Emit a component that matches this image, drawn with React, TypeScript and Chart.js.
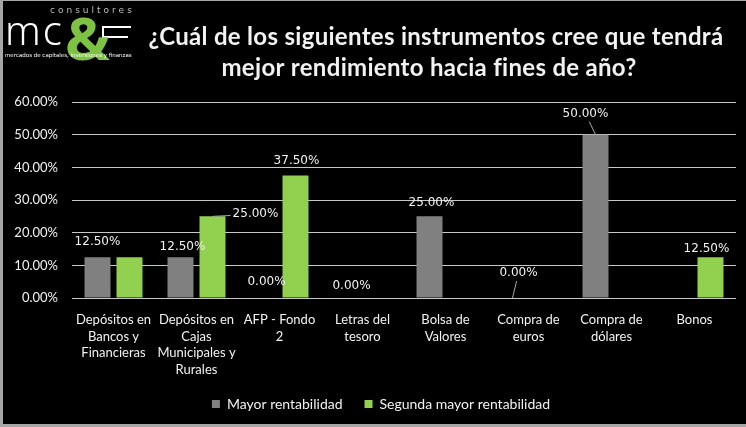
import { useEffect, useRef } from 'react';
import { Chart, registerables } from 'chart.js';
Chart.register(...registerables);

const categories: string[][] = [
  ['Depósitos en', 'Bancos y', 'Financieras'],
  ['Depósitos en', 'Cajas', 'Municipales y', 'Rurales'],
  ['AFP - Fondo', '2'],
  ['Letras del', 'tesoro'],
  ['Bolsa de', 'Valores'],
  ['Compra de', 'euros'],
  ['Compra de', 'dólares'],
  ['Bonos'],
];
const mayorRentabilidad: (number | null)[] = [12.5, 12.5, 0, 0, 25, 0, 50, null];
const segundaMayorRentabilidad: (number | null)[] = [12.5, 25, 37.5, null, null, null, null, 12.5];
const seriesNames = ['Mayor rentabilidad', 'Segunda mayor rentabilidad'];
const titleLines = ['¿Cuál de los siguientes instrumentos cree que tendrá', 'mejor rendimiento hacia fines de año?'];
const yMin = 0;
const yMax = 60;
const yStep = 10;

type LabelCfg = { dx: number; dy: number; leader?: boolean } | null;
const grayLabelCfg: LabelCfg[] = [
  { dx: 0, dy: -15 }, { dx: 2, dy: -10 }, { dx: 3, dy: -16 }, { dx: 5, dy: -12 },
  { dx: 2, dy: -13 }, { dx: 6, dy: -25, leader: true }, { dx: -10, dy: -21, leader: true }, null,
];
const greenLabelCfg: LabelCfg[] = [
  null, { dx: 43, dy: -2, leader: true }, { dx: 1, dy: -15 }, null, null, null, null, { dx: -4, dy: -8 },
];

const TEXT = '#f2f2f2';
const FONT = 'Lato';

const bgPlugin = {
  id: 'bgFrame',
  beforeDraw(chart: any) {
    const { ctx, width, height } = chart;
    ctx.save();
    ctx.fillStyle = '#000';
    ctx.fillRect(0, 0, width, height);
    ctx.fillStyle = '#a6a6a6';
    ctx.fillRect(0, 0, 3, height);
    ctx.fillRect(0, height - 3, width, 3);
    ctx.fillRect(0, 0, width, 1);
    ctx.restore();
  },
  afterLayout(chart: any) {
    if (chart.legend) {
      chart.legend.left += 8;
      chart.legend.right += 8;
      chart.legend.top -= 6;
      chart.legend.bottom -= 6;
    }
  },
};

const titlePlugin = {
  id: 'customTitle',
  afterDraw(chart: any) {
    const { ctx } = chart;
    ctx.save();
    ctx.fillStyle = TEXT;
    ctx.font = `bold 24px ${FONT}`;
    (ctx as any).letterSpacing = '0.3px';
    ctx.textAlign = 'center';
    ctx.textBaseline = 'middle';
    ctx.fillText(titleLines[0], 436, 37);
    ctx.fillText(titleLines[1], 429, 68);
    // logo
    ctx.textAlign = 'left';
    ctx.textBaseline = 'alphabetic';
    ctx.fillStyle = '#bfbfbf';
    ctx.font = `9px "DejaVu Sans"`;
    (ctx as any).letterSpacing = '3px';
    ctx.fillText('consultores', 50, 13);
    ctx.fillStyle = '#ffffff';
    ctx.font = `300 40px "Noto Sans"`;
    (ctx as any).letterSpacing = '2px';
    ctx.fillText('mc', 5, 45);
    (ctx as any).letterSpacing = '0px';
    ctx.fillRect(102, 26, 29, 2);
    ctx.fillRect(102, 36, 26, 2);
    ctx.fillRect(102, 26, 2, 19);
    ctx.fillStyle = '#7dc242';
    ctx.font = `bold 60px "Noto Sans"`;
    ctx.fillText('&', 65, 60);
    ctx.fillStyle = '#ffffff';
    ctx.font = `5.5px "DejaVu Sans"`;
    ctx.fillText('mercados de capitales, inversiones y finanzas', 5, 57);
    ctx.restore();
  },
};

const labelPlugin = {
  id: 'valueLabels',
  afterDatasetsDraw(chart: any) {
    const { ctx } = chart;
    const cfgs = [grayLabelCfg, greenLabelCfg];
    ctx.save();
    ctx.font = '12px "DejaVu Sans"';
    ctx.textAlign = 'center';
    ctx.textBaseline = 'middle';
    chart.data.datasets.forEach((ds: any, di: number) => {
      const meta = chart.getDatasetMeta(di);
      meta.data.forEach((bar: any, i: number) => {
        const c = cfgs[di][i];
        const v = ds.data[i];
        if (!c || v == null) return;
        const { x, y } = bar.getProps(['x', 'y'], true);
        const text = Number(v).toFixed(2) + '%';
        const w = ctx.measureText(text).width;
        const cx = x + c.dx;
        const cy = y + c.dy;
        if (c.leader) {
          const hw = w / 2 + 2, hh = 8;
          const dx = cx - x, dy = cy - y;
          const tx = dx !== 0 ? (Math.abs(dx) - hw) / Math.abs(dx) : 1;
          const ty = dy !== 0 ? (Math.abs(dy) - hh) / Math.abs(dy) : 1;
          const t = Math.max(0, Math.min(1, Math.max(Math.abs(dx) > hw ? tx : 0, Math.abs(dy) > hh ? ty : 0)));
          ctx.strokeStyle = '#a6a6a6';
          ctx.lineWidth = 1;
          ctx.beginPath();
          ctx.moveTo(x, y);
          ctx.lineTo(x + dx * t, y + dy * t);
          ctx.stroke();
        }
        ctx.fillStyle = TEXT;
        ctx.fillText(text, cx, cy);
      });
    });
    ctx.restore();
  },
};

export default function App() {
  const ref = useRef<HTMLCanvasElement>(null);
  useEffect(() => {
    document.body.style.margin = '0';
    const chart = new Chart(ref.current!, {
      type: 'bar',
      data: {
        labels: categories,
        datasets: [
          { label: seriesNames[0], data: mayorRentabilidad, backgroundColor: '#808080', categoryPercentage: 0.771, barPercentage: 0.8125 },
          { label: seriesNames[1], data: segundaMayorRentabilidad, backgroundColor: '#92d050', categoryPercentage: 0.771, barPercentage: 0.8125 },
        ],
      },
      options: {
        responsive: false,
        animation: false,
        devicePixelRatio: 1,
        layout: { padding: { top: 102, left: 10, right: 10, bottom: 0 } },
        plugins: {
          legend: {
            position: 'bottom',
            labels: { color: TEXT, font: { family: FONT, size: 14 }, boxWidth: 8, boxHeight: 8, padding: 22 },
          },
          title: { display: false },
          tooltip: { enabled: false },
        },
        scales: {
          x: {
            grid: { display: false, drawTicks: false },
            border: { display: false },
            ticks: { color: TEXT, font: { family: FONT, size: 13, lineHeight: 1.3 }, padding: 13, maxRotation: 0, minRotation: 0, autoSkip: false },
            afterFit: (s: any) => { s.height = 83; },
          },
          y: {
            min: yMin,
            max: yMax,
            ticks: { stepSize: yStep, color: TEXT, font: { family: FONT, size: 13 }, padding: 14, callback: (v: any) => Number(v).toFixed(2) + '%' },
            grid: { color: '#c8c8c8', drawTicks: false, lineWidth: 1 },
            border: { display: false },
            afterFit: (s: any) => { s.width = 62; },
          },
        },
      },
      plugins: [bgPlugin, titlePlugin, labelPlugin],
    } as any);
    return () => chart.destroy();
  }, []);
  return (
    <div style={{ width: 746, height: 427 }}>
      <canvas ref={ref} width={746} height={427} />
    </div>
  );
}
